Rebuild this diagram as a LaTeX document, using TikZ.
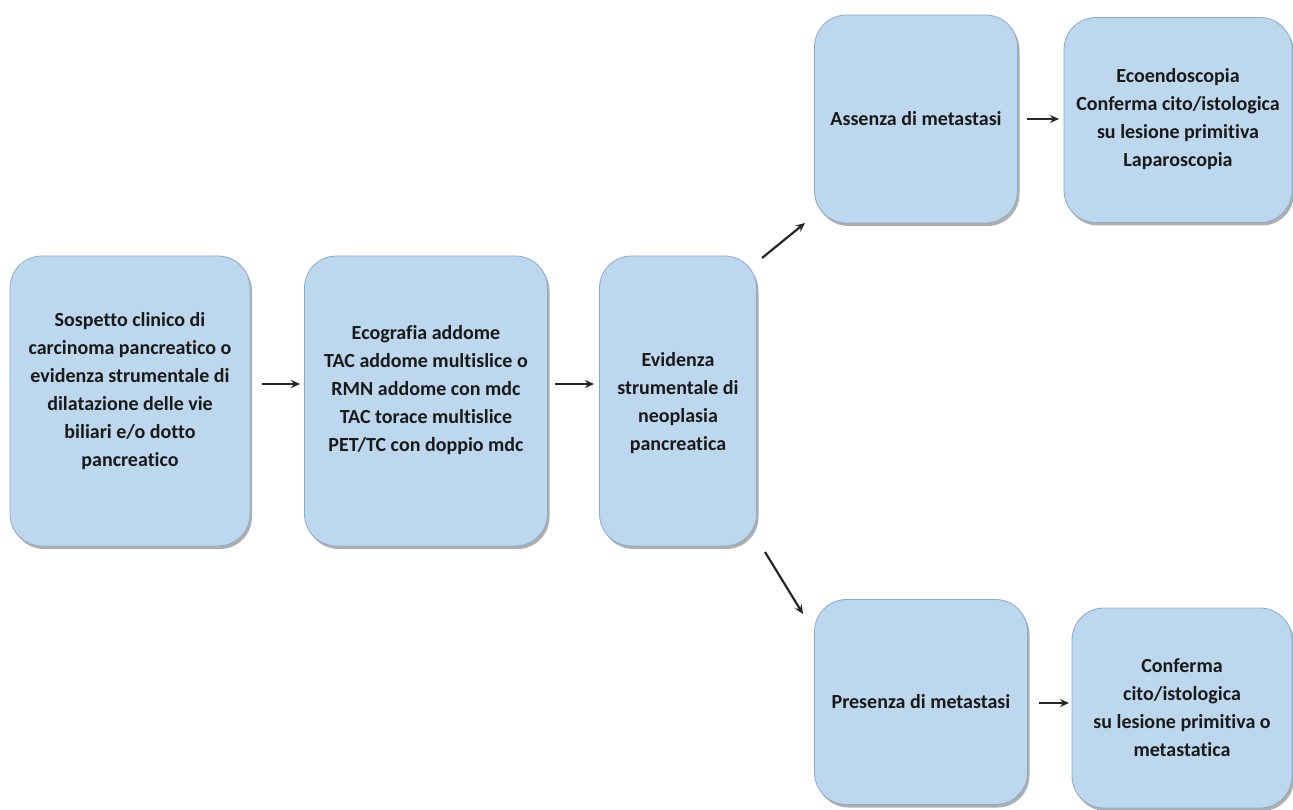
\documentclass[tikz,border=0pt]{standalone}
\usepackage{fontspec}
\setmainfont[Ligatures=NoCommon]{Carlito}
\usetikzlibrary{arrows.meta,shadows}
\begin{document}
\begin{tikzpicture}[x=1pt,y=-1pt,
  box/.style={draw=boxline,line width=0.8pt,fill=boxfill,rounded corners=32pt,
    inner sep=0pt,
    drop shadow={shadow xshift=2pt,shadow yshift=-3pt,opacity=0.45,fill=black!70}},
  txt/.style={font=\bfseries\fontsize{20}{28}\selectfont,align=center,inner sep=0pt,text=black!90},
  arr/.style={line width=2.2pt,draw=black!85,-{Stealth[length=9pt,width=8pt]}}]
\definecolor{boxfill}{HTML}{BDD7EE}
\definecolor{boxline}{HTML}{8FAAC9}
\useasboundingbox (0,0) rectangle (1293,810);
\node[box,minimum width=240pt,minimum height=290pt] (b1) at (130,401) {};
\node[txt] (t1) at ([yshift=10pt]b1.center)
  {Sospetto clinico di\\carcinoma pancreatico o\\evidenza strumentale di\\dilatazione delle vie\\biliari e/o dotto\\pancreatico};
\node[box,minimum width=243pt,minimum height=290pt] (b2) at (426,401) {};
\node[txt] (t2) at ([yshift=11pt]b2.center)
  {Ecografia addome\\TAC addome multislice o\\RMN addome con mdc\\TAC torace multislice\\PET/TC con doppio mdc};
\node[box,minimum width=157pt,minimum height=290pt] (b3) at (678,401) {};
\node[txt] (t3) at ([yshift=-2pt]b3.center)
  {Evidenza\\strumentale di\\neoplasia\\pancreatica};
\node[box,minimum width=203pt,minimum height=208pt] (b4) at (916,119) {};
\node[txt] (t4) at (b4.center) {Assenza di metastasi};
\node[box,minimum width=228pt,minimum height=205pt] (b5) at (1178,120) {};
\node[txt] (t5) at ([yshift=1pt]b5.center)
  {Ecoendoscopia\\Conferma cito/istologica\\su lesione primitiva\\Laparoscopia};
\node[box,minimum width=213pt,minimum height=205pt] (b6) at (921,702) {};
\node[txt] (t6) at (b6.center) {Presenza di metastasi};
\node[box,minimum width=220pt,minimum height=200pt] (b7) at (1182,708) {};
\node[txt] (t7) at (b7.center)
  {Conferma\\cito/istologica\\su lesione primitiva o\\metastatica};
\coordinate (a1s) at (262,384); \coordinate (a1e) at (300,384);
\coordinate (a2s) at (555,384); \coordinate (a2e) at (594,384);
\coordinate (a3s) at (762,258); \coordinate (a3e) at (805,223);
\coordinate (a4s) at (765,552); \coordinate (a4e) at (803,614);
\coordinate (a5s) at (1027,119); \coordinate (a5e) at (1059,119);
\coordinate (a6s) at (1039,703); \coordinate (a6e) at (1069,703);
\draw[arr] (a1s) -- (a1e);
\draw[arr] (a2s) -- (a2e);
\draw[arr] (a3s) -- (a3e);
\draw[arr] (a4s) -- (a4e);
\draw[arr] (a5s) -- (a5e);
\draw[arr] (a6s) -- (a6e);
\end{tikzpicture}
\end{document}
